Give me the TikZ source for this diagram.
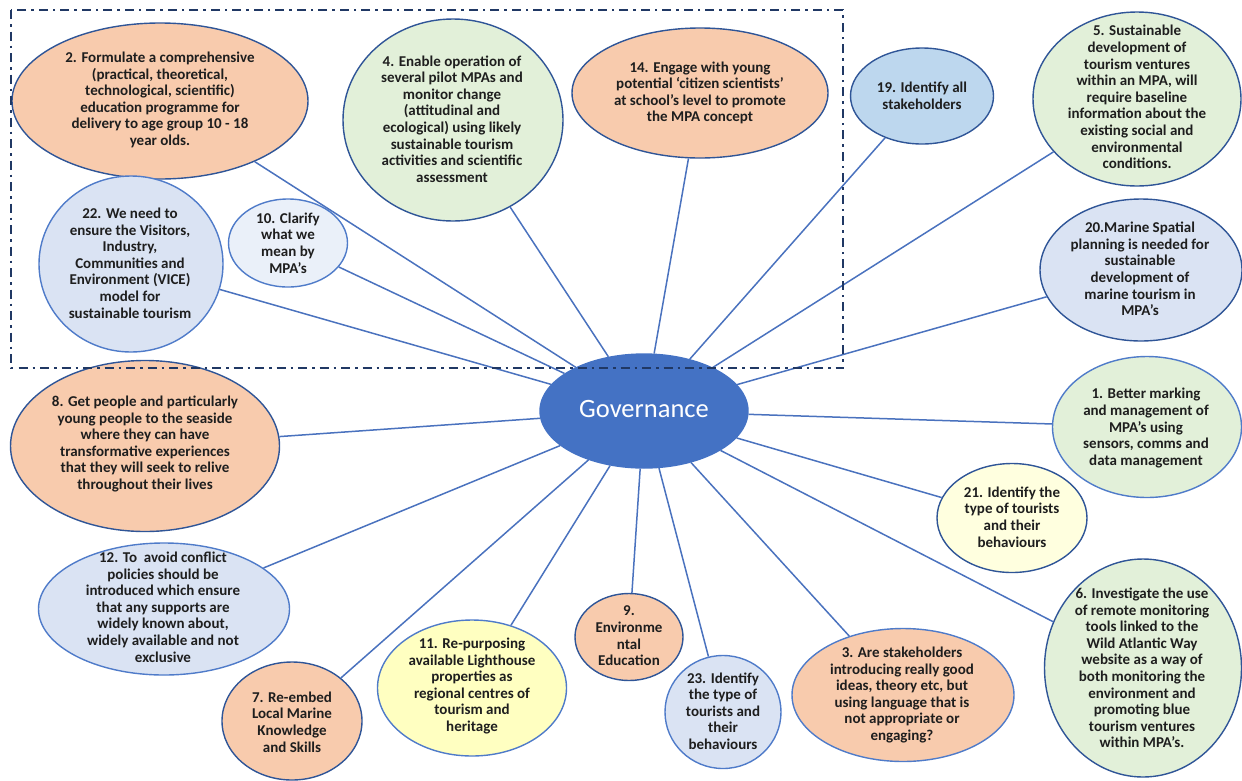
\documentclass[tikz,border=0pt]{standalone}
\usepackage{fontspec}
\setmainfont{Carlito}
\usetikzlibrary{shapes.geometric}
\definecolor{orangeF}{HTML}{F8CBAD}
\definecolor{greenF}{HTML}{E2F0D9}
\definecolor{blueF}{HTML}{DAE3F3}
\definecolor{paleF}{HTML}{EAF0F9}
\definecolor{midF}{HTML}{BDD7EE}
\definecolor{creamF}{HTML}{FFFFDF}
\definecolor{yellowF}{HTML}{FFFFC1}
\definecolor{darkB}{HTML}{2F5597}
\definecolor{lightB}{HTML}{4F7BC9}
\definecolor{lineC}{HTML}{4A72BE}
\definecolor{govF}{HTML}{4472C4}
\definecolor{frameC}{HTML}{203864}
\definecolor{txtC}{HTML}{1E1E1E}
\tikzset{
  ell/.style={ellipse, inner sep=0pt, line width=1.4pt},
  txt/.style={align=center, text=txtC, font=\fontsize{15}{16.6}\selectfont\bfseries, inner sep=0pt},
  conn/.style={draw=lineC, line width=1.5pt},
  frame/.style={draw=frameC, line width=2.4pt, dash pattern=on 9pt off 5pt on 2.5pt off 5pt}
}
\begin{document}
\begin{tikzpicture}[x=1pt,y=-1pt]
\useasboundingbox (0,0) rectangle (1242,780);
% central
\node[ell, fill=govF, draw=govF, minimum width=208, minimum height=114] (gov) at (644,411) {};
\node[text=white, font=\fontsize{26.5}{30}\selectfont, inner sep=0pt] (tgov) at (644,409) {Governance};
% ellipses
\node[ell, fill=orangeF, draw=darkB, minimum width=296, minimum height=156] (n2) at (160,101) {};
\node[ell, fill=blueF, draw=lightB, minimum width=184, minimum height=176] (n22) at (131,264) {};
\node[ell, fill=paleF, draw=lightB, minimum width=119, minimum height=88] (n10) at (288,243) {};
\node[ell, fill=greenF, draw=darkB, minimum width=220, minimum height=202] (n4) at (453,120) {};
\node[ell, fill=orangeF, draw=darkB, minimum width=256, minimum height=130] (n14) at (700,93) {};
\node[ell, fill=midF, draw=darkB, minimum width=143, minimum height=96] (n19) at (922,96) {};
\node[ell, fill=greenF, draw=darkB, minimum width=208, minimum height=174] (n5) at (1137,99) {};
\node[ell, fill=blueF, draw=darkB, minimum width=202, minimum height=142] (n20) at (1141,270) {};
\node[ell, fill=greenF, draw=lightB, minimum width=189, minimum height=141] (n1) at (1147,427) {};
\node[ell, fill=creamF, draw=darkB, minimum width=150, minimum height=109] (n21) at (1012,518) {};
\node[ell, fill=greenF, draw=darkB, minimum width=197, minimum height=218] (n6) at (1143,668) {};
\node[ell, fill=orangeF, draw=lightB, minimum width=222, minimum height=133] (n3) at (903,695) {};
\node[ell, fill=blueF, draw=lightB, minimum width=116, minimum height=113] (n23) at (723,712) {};
\node[ell, fill=orangeF, draw=darkB, minimum width=108, minimum height=87] (n9) at (629,637) {};
\node[ell, fill=yellowF, draw=lightB, minimum width=189, minimum height=136] (n11) at (472,688) {};
\node[ell, fill=orangeF, draw=darkB, minimum width=140, minimum height=118] (n7) at (292,721) {};
\node[ell, fill=blueF, draw=lightB, minimum width=251, minimum height=132] (n12) at (164,609) {};
\node[ell, fill=orangeF, draw=darkB, minimum width=269, minimum height=171] (n8) at (145,446) {};
% connectors
\foreach \n in {n2,n22,n10,n4,n14,n19,n5,n20,n1,n21,n6,n3,n23,n9,n11,n7,n12,n8}
  \draw[conn] (gov) -- (\n);
% texts
\node[txt] (t2) at (160,100) {2. Formulate a comprehensive\\(practical, theoretical,\\technological, scientific)\\education programme for\\delivery to age group 10 - 18\\year olds.};
\node[txt] (t22) at (130,263) {22. We need to\\ensure the Visitors,\\Industry,\\Communities and\\Environment (VICE)\\model for\\sustainable tourism};
\node[txt] (t10) at (288,243) {10. Clarify\\what we\\mean by\\MPA's};
\node[txt] (t4) at (452,119) {4. Enable operation of\\several pilot MPAs and\\monitor change\\(attitudinal and\\ecological) using likely\\sustainable tourism\\activities and scientific\\assessment};
\node[txt] (t14) at (700,93) {14. Engage with young\\potential ‘citizen scientists’\\at school’s level to promote\\the MPA concept};
\node[txt] (t19) at (922,96) {19. Identify all\\stakeholders};
\node[txt] (t5) at (1137,97) {5. Sustainable\\development of\\tourism ventures\\within an MPA, will\\require baseline\\information about the\\existing social and\\environmental\\conditions.};
\node[txt] (t20) at (1140,269) {20.Marine Spatial\\planning is needed for\\sustainable\\development of\\marine tourism in\\MPA's};
\node[txt] (t1) at (1146,428) {1. Better marking\\and management of\\MPA’s using\\sensors, comms and\\data management};
\node[txt] (t21) at (1012,517) {21. Identify the\\type of tourists\\and their\\behaviours};
\node[txt] (t6) at (1142,668) {6. Investigate the use\\of remote monitoring\\tools linked to the\\Wild Atlantic Way\\website as a way of\\both monitoring the\\environment and\\promoting blue\\tourism ventures\\within MPA’s.};
\node[txt] (t3) at (902,695) {3. Are stakeholders\\introducing really good\\ideas, theory etc, but\\using language that is\\not appropriate or\\engaging?};
\node[txt] (t23) at (723,711) {23. Identify\\the type of\\tourists and\\their\\behaviours};
\node[txt] (t9) at (629,636) {9.\\Environme\\ntal\\Education};
\node[txt] (t11) at (472,686) {11. Re-purposing\\available Lighthouse\\properties as\\regional centres of\\tourism and\\heritage};
\node[txt] (t7) at (292,722) {7. Re-embed\\Local Marine\\Knowledge\\and Skills};
\node[txt] (t12) at (163,607) {12. To\ \ avoid conflict\\policies should be\\introduced which ensure\\that any supports are\\widely known about,\\widely available and not\\exclusive};
\node[txt] (t8) at (145,444) {8. Get people and particularly\\young people to the seaside\\where they can have\\transformative experiences\\that they will seek to relive\\throughout their lives};
% dash-dot frame
\draw[frame] (11,10) rectangle (843,368);
\end{tikzpicture}
\end{document}
